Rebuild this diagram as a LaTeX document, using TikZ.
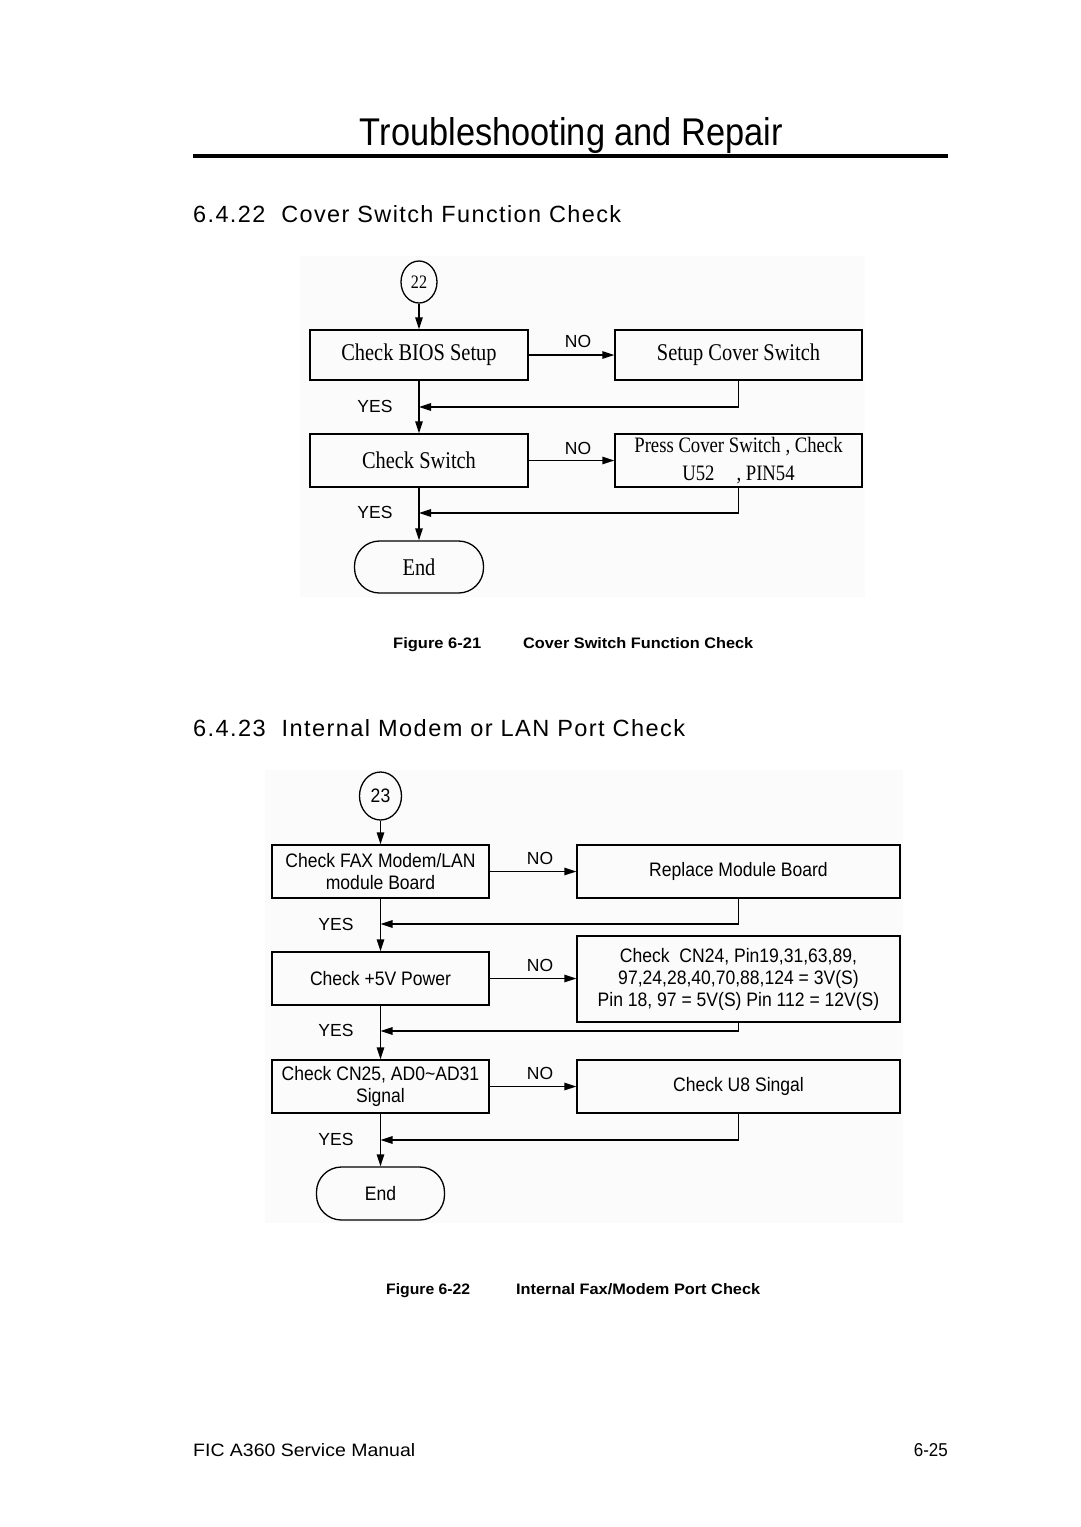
\documentclass[tikz,border=0pt]{standalone}
\usepackage{fontspec}
\usepackage{graphicx}
\usetikzlibrary{arrows.meta,shapes.geometric}
\setmainfont{Liberation Sans}
\newfontfamily\cnfont[FakeStretch=0.85]{Liberation Serif}
\newfontfamily\arfont[FakeStretch=0.9]{Liberation Sans}
\newfontfamily\headfont[LetterSpace=6]{Liberation Sans}
\newcommand\fitbox[3]{\resizebox{#1}{#2}{#3}}
\begin{document}
\begin{tikzpicture}[x=1pt,y=-1pt,
  txt/.style={inner sep=0, anchor=base west},
  boxa/.style={draw, line width=1.3pt, inner sep=0, align=center, font=\cnfont\fontsize{24}{28}\selectfont},
  boxb/.style={draw, line width=1.3pt, inner sep=0, align=center, font=\arfont\fontsize{19.5}{22}\selectfont},
  oval/.style={draw, line width=1.3pt, ellipse, inner sep=0},
  stad/.style={draw, line width=1.3pt, rounded corners=25pt, inner sep=0},
  arr/.style={line width=1.3pt, -{Triangle[length=12pt,width=7.5pt]}},
  yn/.style={inner sep=0, font=\fontsize{17.5}{20}\selectfont},
  bgpanel/.style={fill=black!1.5, draw=none}
]
\useasboundingbox[fill=white] (0,0) rectangle (1080,1527);

% header
\node[txt, anchor=base] (title) at (571.5,145) {\fitbox{423pt}{28pt}{Troubleshooting and Repair}};
\coordinate (rl) at (193,156);
\coordinate (rr) at (948,156);
\draw[line width=4pt] (rl) -- (rr);

\node[txt] (h1) at (193,222) {\fitbox{428pt}{17pt}{\headfont 6.4.22\ \ Cover Switch Function Check}};

% ---------- Figure 6-21 ----------
\fill[bgpanel] (300,256) rectangle (865,597);
\node[oval, minimum width=36pt, minimum height=42pt, font=\cnfont\fontsize{19}{22}\selectfont] (c22) at (419,282) {22};
\node[boxa, minimum width=218pt, minimum height=50pt] (b1) at (419,355) {Check BIOS Setup};
\node[boxa, minimum width=247pt, minimum height=50pt] (b2) at (738.5,355) {Setup Cover Switch};
\node[boxa, minimum width=218pt, minimum height=53pt] (b3) at (419,460.5) {Check Switch};
\node[boxa, minimum width=247pt, minimum height=53pt, font=\cnfont\fontsize{22}{28}\selectfont] (b4) at (738.5,460.5) {Press Cover Switch , Check\\ U52\quad , PIN54};
\node[stad, minimum width=129pt, minimum height=52pt, font=\cnfont\fontsize{24}{28}\selectfont] (e1) at (419,567) {End};
\coordinate (j1) at (419,407);
\coordinate (j2) at (419,513);

\draw[arr] (c22) -- (b1);
\draw[arr] (b1) -- (b2);
\draw[arr] (b2.south) |- (j1);
\draw[arr] (b1) -- (b3);
\draw[arr] (b3) -- (b4);
\draw[arr] (b4.south) |- (j2);
\draw[arr] (b3) -- (e1);

\node[yn] (n1) at (578,341) {NO};
\node[yn] (n2) at (578,448) {NO};
\node[yn] (y1) at (375,406) {YES};
\node[yn] (y2) at (375,512) {YES};

\node[txt] (cap1a) at (393,648) {\fitbox{88pt}{11pt}{\bfseries Figure 6-21}};
\node[txt] (cap1b) at (523,648) {\fitbox{230pt}{11pt}{\bfseries Cover Switch Function Check}};

\node[txt] (h2) at (193,736) {\fitbox{492pt}{17pt}{\headfont 6.4.23\ \ Internal Modem or LAN Port Check}};

% ---------- Figure 6-22 ----------
\fill[bgpanel] (265,770) rectangle (903,1223);
\node[oval, minimum width=42pt, minimum height=48pt, font=\arfont\fontsize{19.5}{22}\selectfont] (c23) at (380.5,796) {23};
\node[boxb, minimum width=217pt, minimum height=53pt] (a1) at (380.5,871.5) {Check FAX Modem/LAN\\module Board};
\node[boxb, minimum width=323pt, minimum height=53pt] (a2) at (738.5,871.5) {Replace Module Board};
\node[boxb, minimum width=217pt, minimum height=53pt] (a3) at (380.5,978.5) {Check +5V Power};
\node[boxb, minimum width=323pt, minimum height=86pt] (a4) at (738.5,979) {Check\ \ CN24, Pin19,31,63,89,\\97,24,28,40,70,88,124 = 3V(S)\\Pin 18, 97 = 5V(S) Pin 112 = 12V(S)};
\node[boxb, minimum width=217pt, minimum height=53pt] (a5) at (380.5,1086.5) {Check CN25, AD0\textasciitilde AD31\\Signal};
\node[boxb, minimum width=323pt, minimum height=53pt] (a6) at (738.5,1086.5) {Check U8 Singal};
\node[stad, minimum width=128pt, minimum height=53pt, font=\arfont\fontsize{19.5}{22}\selectfont] (e2) at (380.5,1193.5) {End};
\coordinate (j3) at (380.5,924);
\coordinate (j4) at (380.5,1031);
\coordinate (j5) at (380.5,1140);

\draw[arr] (c23) -- (a1);
\draw[arr] (a1) -- (a2);
\draw[arr] (a2.south) |- (j3);
\draw[arr] (a1) -- (a3);
\draw[arr] (a3) -- (a3 -| a4.west);
\draw[arr] (a4.south) |- (j4);
\draw[arr] (a3) -- (a5);
\draw[arr] (a5) -- (a6);
\draw[arr] (a6.south) |- (j5);
\draw[arr] (a5) -- (e2);

\node[yn] (n3) at (540,858) {NO};
\node[yn] (n4) at (540,965) {NO};
\node[yn] (n5) at (540,1073) {NO};
\node[yn] (y3) at (336,924) {YES};
\node[yn] (y4) at (336,1030) {YES};
\node[yn] (y5) at (336,1139) {YES};

\node[txt] (cap2a) at (386,1294) {\fitbox{84pt}{11pt}{\bfseries Figure 6-22}};
\node[txt] (cap2b) at (516,1294) {\fitbox{244pt}{11pt}{\bfseries Internal Fax/Modem Port Check}};

% footer
\node[txt] (f1) at (193,1456) {\fitbox{222pt}{13pt}{FIC A360 Service Manual}};
\node[txt, anchor=base east] (f2) at (948,1456) {\fitbox{34pt}{13pt}{6-25}};
\end{tikzpicture}
\end{document}
